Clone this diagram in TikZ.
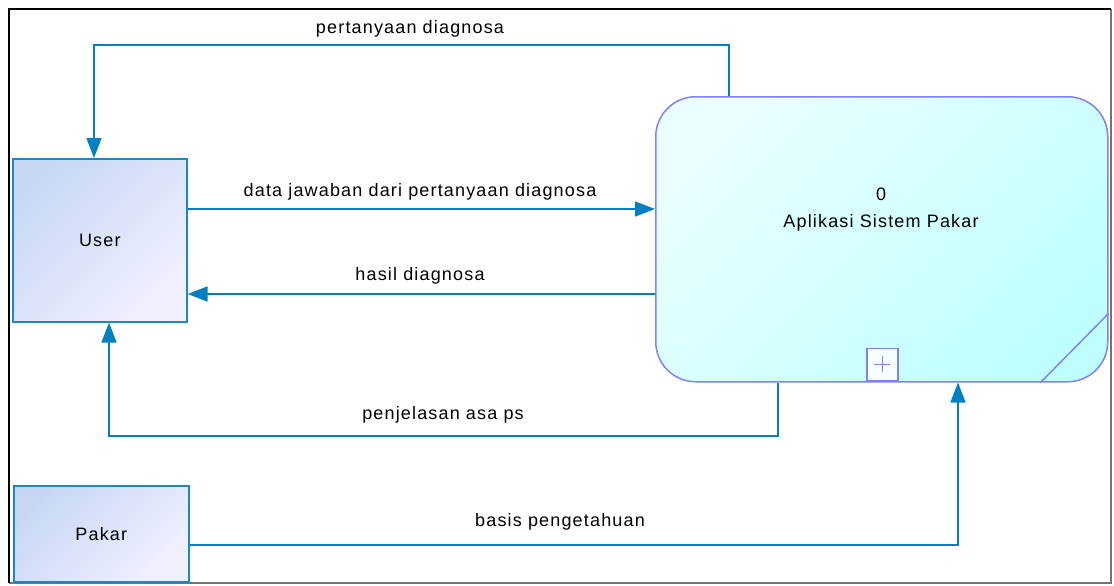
\documentclass[tikz,border=0pt]{standalone}
\usepackage{fontspec}
\setmainfont{Liberation Sans}[LetterSpace=6.5]
\usetikzlibrary{arrows.meta}
\definecolor{flow}{RGB}{0,128,192}
\definecolor{entline}{RGB}{26,136,200}
\definecolor{entA}{RGB}{200,216,244}
\definecolor{entB}{RGB}{240,240,255}
\definecolor{procline}{RGB}{128,128,255}
\definecolor{procA}{RGB}{234,255,255}
\definecolor{procB}{RGB}{192,255,255}
\tikzset{
  txt/.style={font=\fontsize{18}{21}\selectfont},
  entity/.style={txt, draw=entline, line width=1.6pt, top color=entA, bottom color=entB,
    shading angle=45, inner sep=0pt, anchor=north west},
  process/.style={draw=procline, line width=1.5pt, top color=procA, bottom color=procB,
    shading angle=45, rounded corners=40pt, inner sep=0pt, anchor=north west},
  flowline/.style={draw=flow, line width=1.5pt, -{Triangle[length=20pt,width=15pt]}},
  flowlabel/.style={txt, inner sep=0pt},
}
\begin{document}
\begin{tikzpicture}[x=1pt,y=-1pt]
\useasboundingbox (0,0) rectangle (1114,586);
% outer frame
\draw[black!55, line width=1.2pt] (1111,9) -- (1111,583) -- (9,583);
\draw[black, line width=2pt] (9,583) -- (9,9) -- (1111,9);

% external entities
\node[entity, minimum width=174pt, minimum height=163pt] (user) at (12,158) {User};
\node[entity, minimum width=175pt, minimum height=96pt] (pakar) at (13,485) {Pakar};

% process 0
\node[process, minimum width=452pt, minimum height=285pt] (proc) at (655,96) {};
\node[flowlabel] (pnum) at (881,194) {0};
\node[flowlabel] (pname) at (881,223) {Aplikasi Sistem Pakar};
\draw[procline, line width=1.5pt] ([xshift=-68pt]proc.south east) -- ([yshift=69pt]proc.south east);
\node[draw=procline, line width=1.5pt, fill=white!60!procA, minimum width=31pt, minimum height=32pt,
  inner sep=0pt, anchor=south west] (plus) at (866,381) {};
\draw[procline, line width=1.2pt] ([xshift=-8pt]plus.center) -- ([xshift=8pt]plus.center)
  ([yshift=-8pt]plus.center) -- ([yshift=8pt]plus.center);

% data flows
\coordinate (q1) at (729,45);
\coordinate (q2) at (94,45);
\draw[flowline] (proc.north -| q1) -- (q1) -- (q2) -- (user.north -| q2);
\node[flowlabel] (lq) at (410,29) {pertanyaan diagnosa};

\draw[flowline] (user.east |- 0,209) -- (proc.west |- 0,209);
\node[flowlabel] (lj) at (420,192) {data jawaban dari pertanyaan diagnosa};

\draw[flowline] (proc.west |- 0,294) -- (user.east |- 0,294);
\node[flowlabel] (lh) at (420,276) {hasil diagnosa};

\coordinate (p1) at (778,436);
\coordinate (p2) at (109,436);
\draw[flowline] (proc.south -| p1) -- (p1) -- (p2) -- (user.south -| p2);
\node[flowlabel] (lp) at (443,415) {penjelasan asa ps};

\coordinate (b1) at (958,545);
\draw[flowline] (pakar.east |- b1) -- (b1) -- (proc.south -| b1);
\node[flowlabel] (lb) at (560,522) {basis pengetahuan};
\end{tikzpicture}
\end{document}
